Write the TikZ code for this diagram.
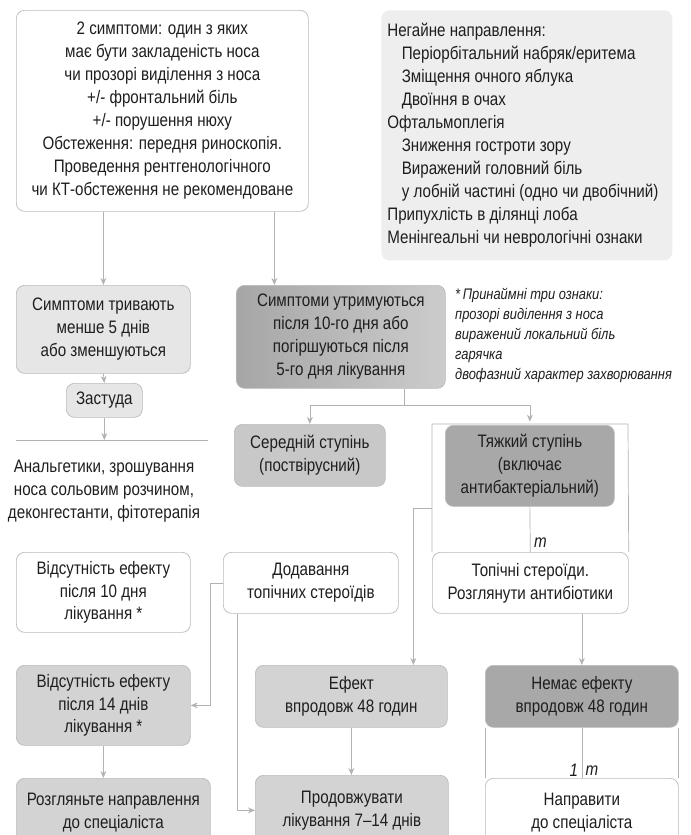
\documentclass[tikz,border=0pt]{standalone}
\usepackage{fontspec}
\setmainfont{Liberation Sans}[FakeStretch=0.84]
\usetikzlibrary{arrows.meta,positioning,calc}

\definecolor{lncol}{HTML}{B2B2B2}
\definecolor{edgecol}{HTML}{BBBBBB}
\definecolor{txtcol}{HTML}{1E1E1E}
\definecolor{flagbg}{HTML}{EEEEEE}
\definecolor{lightbg}{HTML}{E6E6E6}
\definecolor{midbg}{HTML}{D3D3D3}
\definecolor{modbg}{HTML}{C8C8C8}
\definecolor{darkbg}{HTML}{A8A8A8}
\definecolor{gradL}{HTML}{A6A6A6}
\definecolor{gradR}{HTML}{CCCCCC}

\newcommand{\bodyfont}{\fontsize{15.4}{19.6}\selectfont}

\begin{document}
\begin{tikzpicture}[
  x=0.03cm, y=-0.03cm,
  font=\bodyfont, text=txtcol,
  sz/.style 2 args={minimum width=#1*0.03cm, minimum height=#2*0.03cm},
  box/.style={draw=edgecol, line width=0.6pt, rounded corners=7pt, fill=white,
              anchor=north west, align=center, inner sep=2pt},
  light/.style={box, fill=lightbg},
  mid/.style={box, fill=midbg},
  mod/.style={box, fill=modbg},
  dark/.style={box, fill=darkbg},
  ln/.style={draw=lncol, line width=0.6pt},
  arr/.style={ln, -{Stealth[length=6pt, width=5pt]}},
  lbl/.style={font=\bodyfont\itshape, inner sep=3pt}
]
\clip (0,0) rectangle (690,835);

% top row
\node[box, sz={292}{201}] (start) at (16,10)
  {2 симптоми: один з яких\\ має бути закладеність носа\\ чи прозорі виділення з носа\\
   +/- фронтальний біль\\ +/- порушення нюху\\ Обстеження: передня риноскопія.\\
   Проведення рентгенологічного\\ чи КТ-обстеження не рекомендоване};
\node[box, draw=none, fill=flagbg, sz={291}{250}, align=flush left, text width=279*0.03cm,
      inner xsep=6*0.03cm] (flags) at (381,10)
  {Негайне направлення:\\
   \hspace*{0.8em}Періорбітальний набряк/еритема\\
   \hspace*{0.8em}Зміщення очного яблука\\
   \hspace*{0.8em}Двоїння в очах\\
   Офтальмоплегія\\
   \hspace*{0.8em}Зниження гостроти зору\\
   \hspace*{0.8em}Виражений головний біль\\
   \hspace*{0.8em}у лобній частині (одно чи двобічний)\\
   Припухлість в ділянці лоба\\
   Менінгеальні чи неврологічні ознаки};

% second row
\node[light, sz={174}{88}] (short) at (16,285)
  {Симптоми тривають\\ менше 5 днів\\ або зменшуються};
\node[box, left color=gradL, right color=gradR, sz={209}{103}] (persist) at (236,285)
  {Симптоми утримуються\\ після 10-го дня або\\ погіршуються після\\ 5-го дня лікування};
\node[anchor=north west, align=left, inner sep=0pt,
      font=\fontsize{13.1}{17}\selectfont\itshape] (note) at (455,288)
  {*\,Принаймні три ознаки:\\ прозорі виділення з носа\\ виражений локальний біль\\
   гарячка\\ двофазний характер захворювання};

\node[light, sz={76}{34}] (cold) at (66,383) {Застуда};
\coordinate (hrL) at (16,440);
\coordinate (hrR) at (208,440);
\node[align=center, inner sep=0pt] (care) at (104,491)
  {Анальгетики, зрошування\\ носа сольовим розчином,\\ деконгестанти, фітотерапія};

% severity
\node[mod, sz={151}{62}] (moderate) at (234,424) {Середній ступінь\\ (поствірусний)};
\node[dark, sz={169}{81}] (severe) at (445,425)
  {Тяжкий ступінь\\ (включає\\ антибактеріальний)};
\node[box, sz={196}{61}] (topical) at (432,552)
  {Топічні стероїди.\\ Розглянути антибіотики};
\coordinate (fTL) at (432,424);
\coordinate (fTR) at (628,424);
\coordinate (fL) at (432,508);
\coordinate (split) at (404,405);

% third row
\node[box, sz={174}{80}] (noeff10) at (16,552)
  {Відсутність ефекту\\ після 10 дня\\ лікування *};
\node[box, sz={175}{61}] (addster) at (223,552)
  {Додавання\\ топічних стероїдів};

% fourth row
\node[mid, sz={174}{80}] (noeff14) at (16,665)
  {Відсутність ефекту\\ після 14 днів\\ лікування *};
\node[mid, sz={192}{62}] (effect) at (255,665) {Ефект\\ впродовж 48 годин};
\node[dark, sz={193}{62}] (noeff48) at (485,665) {Немає ефекту\\ впродовж 48 годин};

% bottom row
\node[mid, sz={194}{68}] (consider) at (16,778)
  {Розгляньте направлення\\ до спеціаліста};
\node[mid, sz={193}{70}] (continue) at (255,775)
  {Продовжувати\\ лікування 7--14 днів};
\node[box, sz={193}{68}] (refer) at (485,778)
  {Направити\\ до спеціаліста};

% connectors
\draw[arr] (short.north |- start.south) -- (short.north);
\draw[arr] ([xshift=112*0.03cm]start.south) -- ([xshift=112*0.03cm]start.south |- persist.north);
\draw[arr] (short.south) -- (cold.north);
\draw[ln] (hrL) -- (hrR);
\draw[arr] (cold.south) -- (cold.south |- hrL);

\draw[ln] (split |- persist.south) -- (split);
\draw[arr] (split) -| (moderate.north);
\draw[arr] (split) -| ([yshift=2pt]severe.north |- fTL);

\draw[ln] (topical.north west) -- (fTL) -- (fTR) -- (topical.north east);
\draw[ln] (severe.south) -- (topical.north) node[lbl, pos=0.8, right] {m};
\draw[arr] (fL) -| ([xshift=62*0.03cm]effect.north);

\draw[arr] (addster.west) -- ++(-13,0) |- (noeff14.east);
\draw[arr] ([xshift=-73.5*0.03cm]addster.south) |- (continue.west);
\draw[arr] (effect.south) -- (effect.south |- continue.north);
\draw[arr] (noeff14.south) -- (noeff14.south |- consider.north);
\draw[arr] (noeff48.north |- topical.south) -- (noeff48.north);

\draw[ln] (noeff48.south west) -- (refer.north west);
\draw[ln] (noeff48.south east) -- (refer.north east);
\draw[ln] (noeff48.south) -- (refer.north)
  node[lbl, pos=0.85, left] {1} node[lbl, pos=0.85, right] {m};
\end{tikzpicture}
\end{document}
